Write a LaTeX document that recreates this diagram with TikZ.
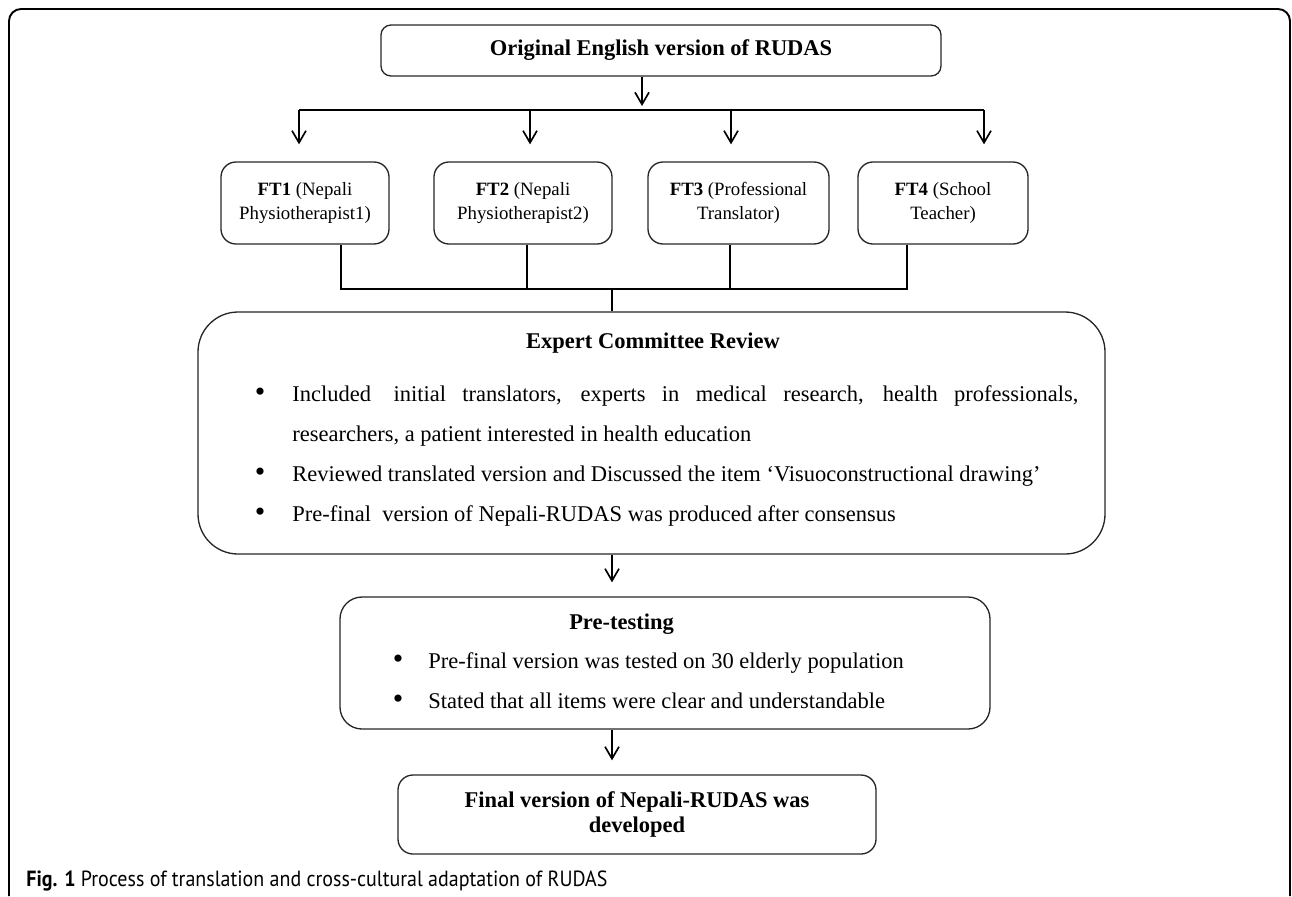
\documentclass[tikz,border=0pt]{standalone}
\usepackage{graphicx}
\usepackage{fontspec}
\setmainfont{Liberation Serif}
\newfontfamily\capfont{PT Sans}
\usetikzlibrary{arrows.meta}
\tikzset{
    every node/.style={inner sep=0mm, font=\fontsize{12.8pt}{13.9pt}\selectfont}
}
\tikzset{
    roundbox/.style={draw=black!85, line width=0.75pt, align=center},
    ftbox/.style={roundbox, rounded corners=0.3cm, minimum height=1.64cm, font=\fontsize{10.7pt}{13.66pt}\selectfont},
    arr/.style={line width=0.95pt, -{Straight Barb[length=0.24cm, width=0.28cm, line width=0.95pt]}},
    link/.style={line width=0.95pt},
    txt/.style={anchor=mid west},
    dot/.style={anchor=mid, font=\fontsize{17pt}{17pt}\selectfont}
}

\begin{document}
\begin{tikzpicture}
    \useasboundingbox (0cm, 0cm) rectangle (25.84cm, -17.92cm);
    \draw[line width=1.1pt, rounded corners=0.24cm] (0.18cm, -17.92cm) -- (0.18cm, -0.18cm) -- (25.8cm, -0.18cm) -- (25.8cm, -17.92cm);

    \node (orig) [roundbox, rounded corners=0.2cm, minimum width=11.2cm, minimum height=1.02cm] at (13.22cm, -1.01cm) {\textbf{Original English version of RUDAS}};

    \node (ft1) [ftbox, minimum width=3.36cm] at (6.1cm, -4.06cm) {\textbf{FT1} (Nepali\\Physiotherapist1)};
    \node (ft2) [ftbox, minimum width=3.56cm] at (10.46cm, -4.06cm) {\textbf{FT2} (Nepali\\Physiotherapist2)};
    \node (ft3) [ftbox, minimum width=3.62cm] at (14.77cm, -4.06cm) {\textbf{FT3} (Professional\\Translator)};
    \node (ft4) [ftbox, minimum width=3.4cm] at (18.86cm, -4.06cm) {\textbf{FT4} (School\\Teacher)};

    \node (expert) [roundbox, rounded corners=0.8cm, minimum width=18.14cm, minimum height=4.84cm] at (13.03cm, -8.66cm) {};
    \node (exptitle) at (13.06cm, -6.86cm) {\textbf{Expert Committee Review}};
    \node (e1dot) [dot] at (5.2cm, -7.94cm) {\textbullet};
    \node (e1a) [txt] at (5.84cm, -7.94cm) {\makebox[15.72cm][s]{Included\quad initial translators, experts in medical research, health professionals,}};
    \node (e1b) [txt] at (5.84cm, -8.74cm) {researchers, a patient interested in health education};
    \node (e2dot) [dot] at (5.2cm, -9.54cm) {\textbullet};
    \node (e2) [txt] at (5.84cm, -9.54cm) {Reviewed translated version and Discussed the item `Visuoconstructional drawing'};
    \node (e3dot) [dot] at (5.2cm, -10.34cm) {\textbullet};
    \node (e3) [txt] at (5.84cm, -10.34cm) {Pre-final\ \ version of Nepali-RUDAS was produced after consensus};

    \node (pretest) [roundbox, rounded corners=0.44cm, minimum width=13.0cm, minimum height=2.64cm] at (13.3cm, -13.26cm) {};
    \node (pretitle) at (12.43cm, -12.48cm) {\textbf{Pre-testing}};
    \node (p1dot) [dot] at (7.96cm, -13.28cm) {\textbullet};
    \node (p1) [txt] at (8.56cm, -13.28cm) {Pre-final version was tested on 30 elderly population};
    \node (p2dot) [dot] at (7.96cm, -14.08cm) {\textbullet};
    \node (p2) [txt] at (8.56cm, -14.08cm) {Stated that all items were clear and understandable};

    \node (final) [roundbox, rounded corners=0.3cm, minimum width=9.56cm, minimum height=1.58cm, font=\fontsize{12.8pt}{14.2pt}\selectfont] at (12.74cm, -16.29cm) {\textbf{Final version of Nepali-RUDAS was}\\\textbf{developed}};

    \node (cap) [anchor=base west, font=\capfont\fontsize{12.5pt}{15pt}\selectfont] at (0.52cm, -17.72cm) {\scalebox{0.91}[1]{\textbf{Fig. 1} Process of translation and cross-cultural adaptation of RUDAS}};

    \coordinate (t0) at (12.84cm, -2.2cm);
    \coordinate (b1) at (5.98cm, -2.2cm);
    \coordinate (b2) at (10.6cm, -2.2cm);
    \coordinate (b3) at (14.62cm, -2.2cm);
    \coordinate (b4) at (19.68cm, -2.2cm);
    \coordinate (m1) at (6.82cm, -5.78cm);
    \coordinate (m2) at (10.54cm, -5.78cm);
    \coordinate (m3) at (14.6cm, -5.78cm);
    \coordinate (m4) at (18.14cm, -5.78cm);
    \coordinate (mc) at (12.24cm, -5.78cm);

    \draw[arr, shorten >=0.08cm] (t0 |- orig.south) -- (t0);
    \draw[link] (b1) -- (b4);
    \draw[arr, shorten >=0.34cm] (b1) -- (b1 |- ft1.north);
    \draw[arr, shorten >=0.34cm] (b2) -- (b2 |- ft2.north);
    \draw[arr, shorten >=0.34cm] (b3) -- (b3 |- ft3.north);
    \draw[arr, shorten >=0.34cm] (b4) -- (b4 |- ft4.north);

    \draw[link] (m1 |- ft1.south) -- (m1) -- (m4) -- (m4 |- ft4.south);
    \draw[link] (m2 |- ft2.south) -- (m2);
    \draw[link] (m3 |- ft3.south) -- (m3);
    \draw[link] (mc) -- (mc |- expert.north);

    \draw[arr, shorten >=0.28cm] (mc |- expert.south) -- (mc |- pretest.north);
    \draw[arr, shorten >=0.28cm] (mc |- pretest.south) -- (mc |- final.north);
\end{tikzpicture}
\end{document}
